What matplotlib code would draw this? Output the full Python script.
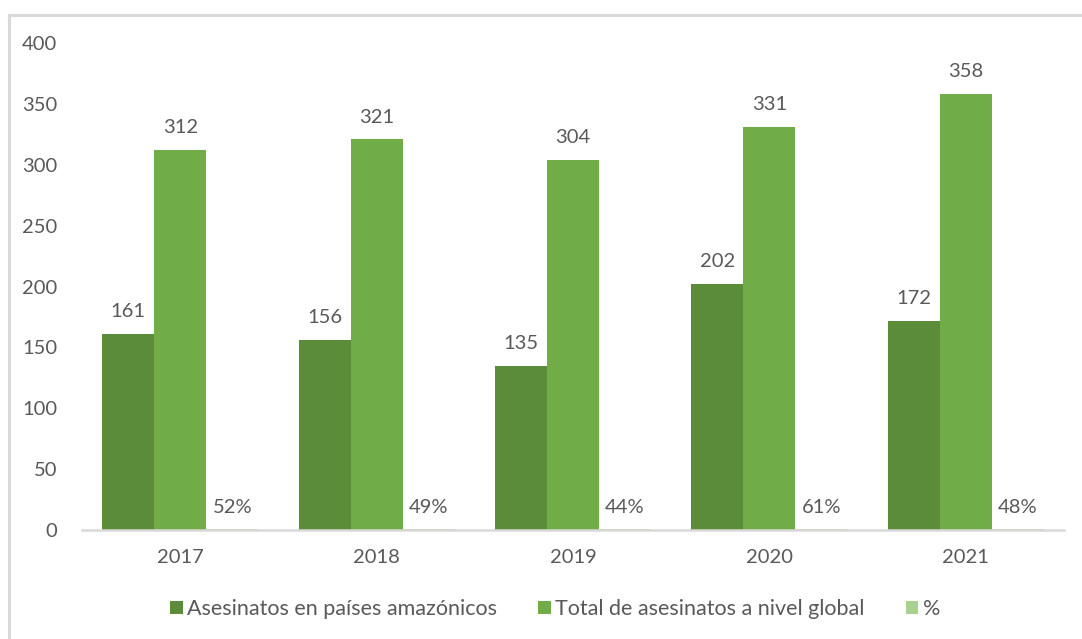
import matplotlib
matplotlib.use("Agg")
import matplotlib.pyplot as plt
from matplotlib.lines import Line2D
import numpy as np

years = ["2017", "2018", "2019", "2020", "2021"]
amazon = [161, 156, 135, 202, 172]
total = [312, 321, 304, 331, 358]
pct = [0.52, 0.49, 0.44, 0.61, 0.48]
series_names = ["Asesinatos en países amazónicos", "Total de asesinatos a nivel global", "%"]
colors = ["#5A8C3A", "#70AD47", "#A9D18E"]
yticks = [0, 50, 100, 150, 200, 250, 300, 350, 400]

plt.rcParams['font.family'] = ['Lato', 'DejaVu Sans']
txt = "#595959"

fig = plt.figure(figsize=(10.82, 6.39), dpi=100)
ax = fig.add_axes([82/1082, 1-530/639, (1064-82)/1082, (530-43)/639])

x = np.arange(len(years))
w = 0.265
b1 = ax.bar(x - w, amazon, w, color=colors[0], label=series_names[0])
b2 = ax.bar(x, total, w, color=colors[1], label=series_names[1])
b3 = ax.bar(x + w, pct, w, color=colors[2], label=series_names[2])

for bars, vals, fmt in [(b1, amazon, "{:d}"), (b2, total, "{:d}"), (b3, pct, None)]:
    for r, v in zip(bars, vals):
        s = f"{round(v*100)}%" if fmt is None else fmt.format(v)
        ax.annotate(s, (r.get_x() + r.get_width()/2, r.get_height()),
                    xytext=(0, 12), textcoords="offset points",
                    ha="center", va="baseline", fontsize=14.5, color=txt)

ax.set_xlim(-0.5, len(years) - 0.5)
ax.set_ylim(0, 400)
ax.set_yticks(yticks)
ax.set_yticklabels([str(t) for t in yticks], fontsize=14.5, color=txt)
ax.set_xticks(x)
ax.set_xticklabels(years, fontsize=14.5, color=txt)
ax.tick_params(axis='both', length=0)
ax.tick_params(axis='x', pad=14)
ax.tick_params(axis='y', pad=18)
for s in ["top", "right", "left"]:
    ax.spines[s].set_visible(False)
ax.spines["bottom"].set_color("#D9D9D9")
ax.spines["bottom"].set_linewidth(1.8)

leg = fig.legend(handles=[b1, b2, b3], labels=series_names, loc="center",
                 bbox_to_anchor=((541 + 14) / 1082, 1-609/639), ncol=3, frameon=False,
                 fontsize=15.5, handlelength=0.6, handleheight=0.6,
                 handletextpad=0.2, columnspacing=1.9)
for t in leg.get_texts():
    t.set_color(txt)

# outer box border (left & top)
fig.add_artist(Line2D([9/1082, 9/1082], [0, 1-15/639], color="#D9D9D9", lw=2.2, transform=fig.transFigure))
fig.add_artist(Line2D([9/1082, 1], [1-15/639, 1-15/639], color="#D9D9D9", lw=2.2, transform=fig.transFigure))

fig.savefig("out.png", dpi=100)
